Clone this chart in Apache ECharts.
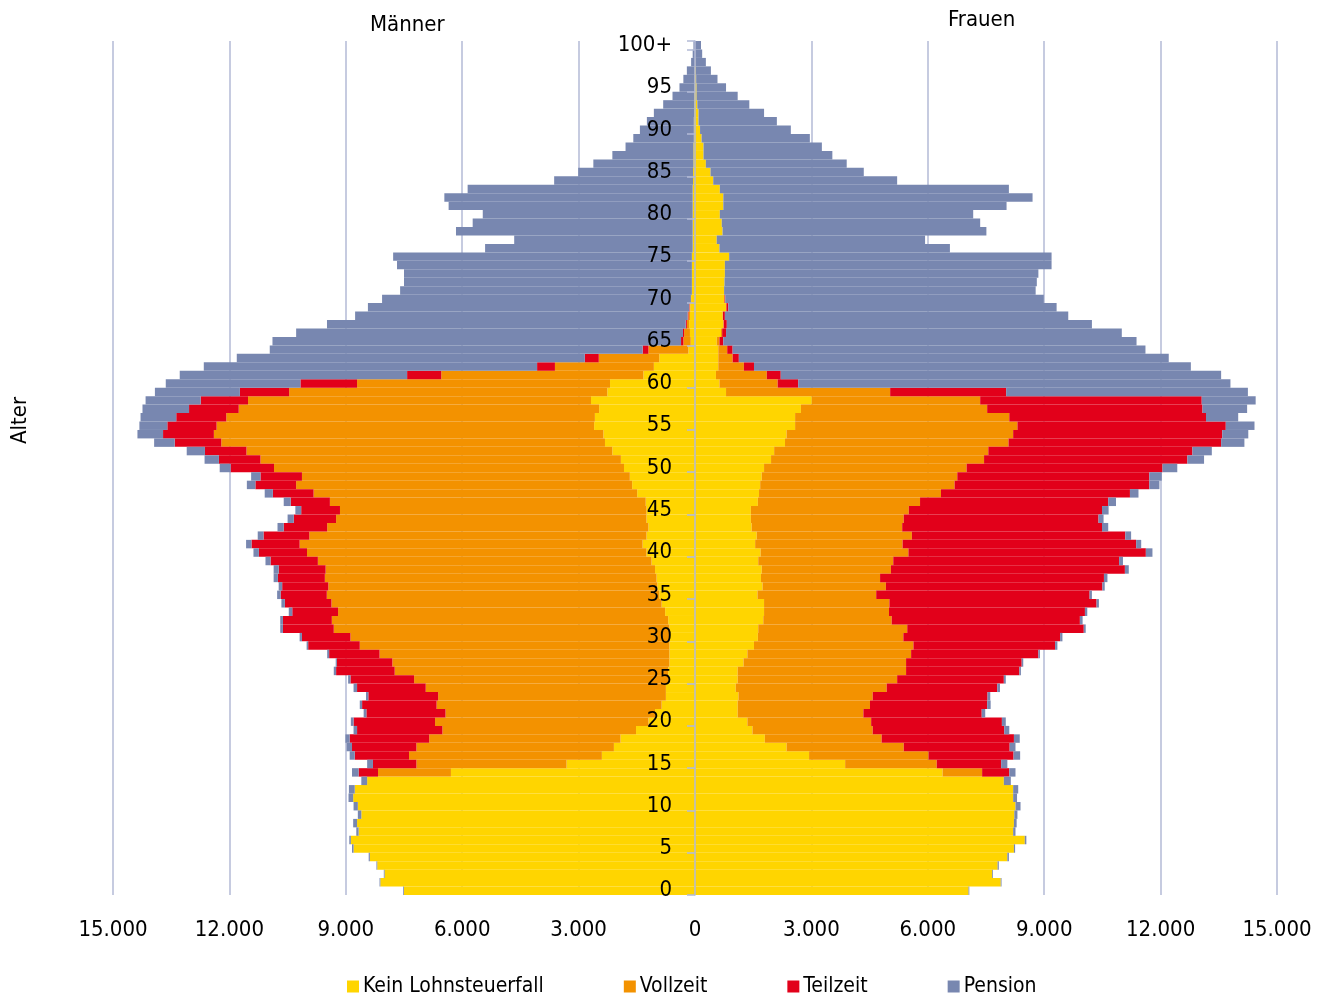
<!DOCTYPE html>
<html>
<head>
<meta charset="utf-8">
<script src="https://cdn.jsdelivr.net/npm/echarts@6/dist/echarts.min.js"></script>
<style>
html,body{margin:0;padding:0;background:#fff;}
#chart{width:1325px;height:999px;}
</style>
</head>
<body>
<div id="chart"></div>
<script>
const ageLabels = ['0','1','2','3','4','5','6','7','8','9','10','11','12','13','14','15','16','17','18','19','20','21','22','23','24','25','26','27','28','29','30','31','32','33','34','35','36','37','38','39','40','41','42','43','44','45','46','47','48','49','50','51','52','53','54','55','56','57','58','59','60','61','62','63','64','65','66','67','68','69','70','71','72','73','74','75','76','77','78','79','80','81','82','83','84','85','86','87','88','89','90','91','92','93','94','95','96','97','98','99','100+'];

const seriesNames = ['Kein Lohnsteuerfall','Vollzeit','Teilzeit','Pension'];
const seriesColors = ['#FFD500','#F39200','#E2001A','#7887B0'];

// Männer (left side), values per age 0..100+
const menKein = [7500,8110,8000,8190,8380,8800,8870,8670,8710,8600,8690,8810,8770,8450,6290,3310,2400,2090,1920,1520,1200,1030,860,750,750,690,690,660,660,660,660,660,690,770,860,920,970,990,1030,1120,1250,1350,1250,1200,1250,1250,1270,1490,1620,1680,1830,1910,2130,2320,2360,2600,2580,2470,2680,2260,2190,1330,1060,920,170,110,130,150,130,120,100,80,80,80,80,80,60,60,60,60,60,60,60,60,50,50,40,40,40,30,30,30,20,20,20,10,10,10,0,0,0];
const menVoll = [0,0,0,0,0,0,0,0,0,0,0,0,0,0,1880,3870,4970,5090,4930,4990,5500,5400,5800,5870,6190,6550,7050,7140,7470,7980,8220,8650,8670,8430,8510,8570,8480,8550,8490,8600,8750,8840,8690,8280,8000,7900,8140,8340,8660,8450,9020,9290,9430,9890,10040,9730,9500,9290,8840,8200,6520,5210,2550,1560,1030,190,150,60,40,20,5,0,0,0,0,0,0,0,0,0,0,0,0,0,0,0,0,0,0,0,0,0,0,0,0,0,0,0,0,0,0];
const menTeil = [0,0,0,0,0,0,0,0,0,0,0,0,0,0,500,1120,1400,1660,2050,2200,2100,2040,1920,1800,1770,1640,1510,1430,1300,1330,1250,1310,1260,1180,1200,1190,1190,1210,1210,1220,1240,1240,1180,1120,1090,1000,1010,1050,1050,1070,1120,1070,1070,1200,1310,1270,1290,1280,1220,1270,1460,880,460,360,150,60,30,30,20,10,0,0,0,0,0,0,0,0,0,0,0,0,0,0,0,0,0,0,0,0,0,0,0,0,0,0,0,0,0,0,0];
const menPension = [20,20,20,20,30,40,40,60,100,90,110,120,150,150,170,150,130,140,110,90,70,70,60,60,90,60,60,30,50,40,60,70,70,90,90,90,90,110,130,130,140,140,150,160,160,150,180,210,220,240,280,370,470,530,660,720,920,1200,1420,2190,3470,5860,8590,8970,9610,10530,9970,9245,8570,8280,7960,7520,7420,7420,7600,7700,5350,4600,6100,5670,5410,6290,6400,5800,3580,2960,2580,2090,1750,1560,1390,1210,1040,800,560,390,290,200,100,60,40];

// Frauen (right side), values per age 0..100+
const womenKein = [7050,7880,7660,7800,8050,8220,8500,8200,8220,8230,8260,8200,8200,7960,6380,3870,2940,2360,1800,1480,1350,1100,1100,1120,1050,1100,1100,1250,1350,1520,1620,1630,1760,1780,1780,1610,1740,1700,1720,1630,1690,1550,1590,1460,1440,1440,1620,1650,1680,1720,1780,1960,2040,2320,2360,2580,2580,2730,3010,800,630,540,600,600,600,560,670,730,710,800,760,750,760,770,770,880,630,560,710,690,640,730,730,640,470,400,280,220,220,170,130,90,90,60,40,40,30,20,10,5,0];
const womenVoll = [0,0,0,0,0,0,0,0,0,0,0,0,0,0,1020,2360,3080,3020,3010,3100,3190,3240,3410,3460,3890,4110,4340,4190,4220,4110,3750,3840,3310,3220,3230,3060,3180,3070,3330,3480,3810,3800,4000,3880,3940,4070,4180,4690,5010,5040,5220,5490,5520,5760,5840,5730,5520,4800,4340,4230,1500,1310,660,370,230,70,30,10,10,10,0,0,0,0,0,0,0,0,0,0,0,0,0,0,0,0,0,0,0,0,0,0,0,0,0,0,0,0,0,0,0];
const womenTeil = [0,0,0,0,0,0,0,0,0,0,0,0,0,0,700,1660,2190,2730,3410,3390,3370,3050,3020,2960,2850,2750,2920,2980,3280,3650,4040,4550,4850,5050,5340,5500,5580,5770,6030,5820,6120,6020,5500,5150,5020,4980,4850,4870,5020,4950,5050,5240,5260,5480,5390,5370,5070,5550,5710,2990,530,360,260,160,140,100,100,80,50,50,20,0,0,0,0,0,0,0,0,0,0,0,0,0,0,0,0,0,0,0,0,0,0,0,0,0,0,0,0,0,0];
const womenPension = [20,20,20,30,40,30,40,60,70,80,130,100,130,180,160,160,170,150,150,130,100,90,90,70,70,50,40,40,40,60,60,50,70,60,60,60,60,90,100,100,170,130,150,160,130,170,200,220,260,320,380,430,500,600,670,740,830,1150,1390,6230,11140,11350,11260,11080,10640,10650,10200,9410,8850,8460,8210,8030,8050,8080,8420,8310,5940,5370,6800,6660,6530,7300,7970,7450,4740,3950,3630,3320,3050,2790,2340,2020,1690,1340,1060,760,550,390,270,180,155];

const menData = [menKein, menVoll, menTeil, menPension];
const womenData = [womenKein, womenVoll, womenTeil, womenPension];

const FONT = "'Liberation Sans Narrow','DejaVu Sans Condensed','Arial Narrow','Liberation Sans',sans-serif";

const chart = echarts.init(document.getElementById('chart'), null, {renderer:'canvas'});

function fmt(v){
  const a = Math.abs(v);
  return a.toString().replace(/\B(?=(\d{3})+(?!\d))/g, '.');
}

const series = [];
menData.forEach((arr, i) => {
  series.push({
    name: seriesNames[i], type: 'bar', stack: 'pyr', barCategoryGap: '0%',
    itemStyle: {color: seriesColors[i]},
    emphasis: {disabled: true},
    data: arr.map(v => v === 0 ? '-' : -v)
  });
});
womenData.forEach((arr, i) => {
  series.push({
    name: seriesNames[i], type: 'bar', stack: 'pyr', barCategoryGap: '0%',
    itemStyle: {color: seriesColors[i]},
    emphasis: {disabled: true},
    data: arr.map(v => v === 0 ? '-' : v)
  });
});

chart.setOption({
  animation: false,
  textStyle: {fontFamily: FONT},
  grid: {left: 113, right: 48, top: 41, bottom: 104, containLabel: false},
  legend: {
    data: seriesNames,
    left: 347, top: 976, padding: 0,
    itemWidth: 12, itemHeight: 12, itemGap: 80,
    icon: 'rect',
    textStyle: {fontSize: 21, color: '#000', fontFamily: FONT, padding: [0,0,0,-1]}
  },
  xAxis: {
    type: 'value', min: -15000, max: 15000, interval: 3000,
    axisLine: {show: false}, axisTick: {show: false},
    splitLine: {show: true, lineStyle: {color: '#B3BAD6', width: 1.5}},
    axisLabel: {fontSize: 22, color: '#000', margin: 24, fontFamily: FONT, formatter: fmt}
  },
  yAxis: {
    type: 'category', data: ageLabels, z: 10,
    offset: -582,
    axisLine: {show: true, onZero: false, lineStyle: {color: '#B3BAD6', width: 1.5}},
    axisTick: {show: true, length: 8, interval: (i) => i % 5 === 0, lineStyle: {color: '#B3BAD6', width: 1.5}},
    axisLabel: {fontSize: 22, color: '#000', margin: 23, fontFamily: FONT, interval: (i) => i % 5 === 0},
    splitLine: {show: false}
  },
  graphic: [
    {type: 'text', left: 370, top: 14, style: {text: 'Männer', fontSize: 22, fill: '#000', fontFamily: FONT}},
    {type: 'text', left: 948, top: 9, style: {text: 'Frauen', fontSize: 22, fill: '#000', fontFamily: FONT}},
    {type: 'text', x: 9, y: 444, rotation: Math.PI/2, style: {text: 'Alter', fontSize: 22, fill: '#000', fontFamily: FONT}}
  ],
  series: series
});
</script>
</body>
</html>
